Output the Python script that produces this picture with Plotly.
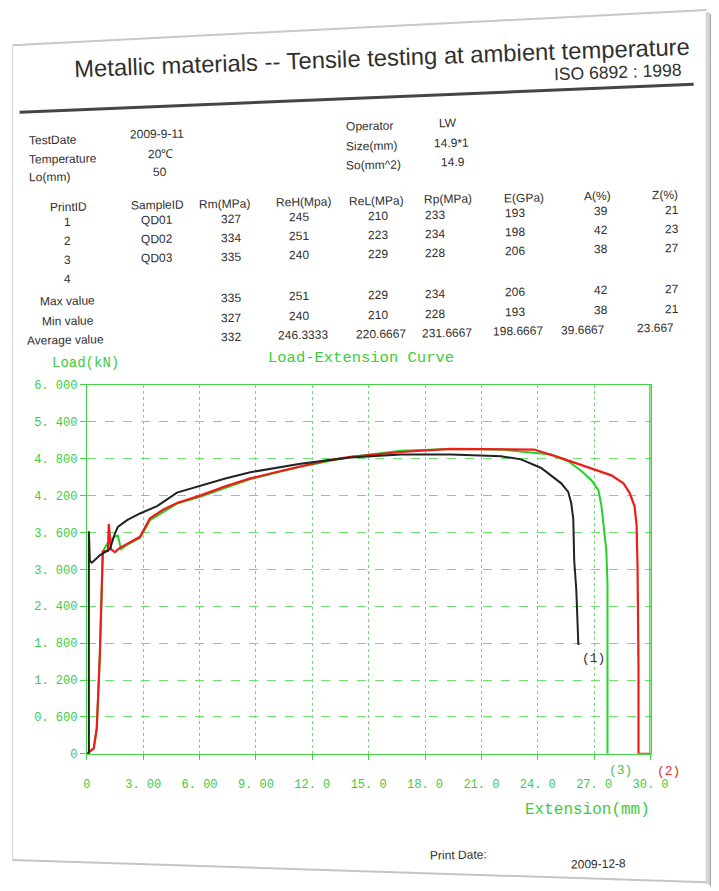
import plotly.graph_objects as go

# Figure size and the measured mapping from figure pixels to the photographed picture.
FW, FH = 731, 893
SX, AX = 0.967, 12.4
SY, AY = 0.982, 13.9

# ---------------- data ----------------
# Sample (1) - black
ext_1 = [0.05, 0.11, 0.11, 0.16, 0.27, 0.69, 1.23, 1.49, 1.65, 2.14, 2.83, 3.74, 4.80, 6.03, 7.37,
         8.70, 10.04, 11.37, 12.71, 14.04, 16.71, 19.38, 22.05, 23.11, 24.18, 24.72, 25.25, 25.62,
         25.78, 25.89, 25.94, 26.05, 26.16]
load_1 = [0.00, 0.00, 3.62, 3.14, 3.11, 3.23, 3.33, 3.58, 3.69, 3.80, 3.91, 4.03, 4.25, 4.36, 4.48,
          4.58, 4.65, 4.72, 4.77, 4.82, 4.87, 4.87, 4.84, 4.79, 4.65, 4.52, 4.40, 4.26,
          4.08, 3.82, 3.14, 2.67, 1.77]

# Sample (2) - red
ext_2 = [0.00, 0.37, 0.53, 0.69, 0.80, 0.85, 1.12, 1.17, 1.28, 1.49, 1.76, 2.14, 2.83, 3.36, 4.06,
         4.80, 6.03, 7.37, 8.70, 10.04, 11.37, 12.71, 14.04, 16.71, 19.38, 22.05, 23.81, 25.25,
         26.48, 27.23, 27.92, 28.56, 28.88, 29.15, 29.26, 29.31, 29.36, 29.36, 30.00]
load_2 = [0.00, 0.09, 0.42, 1.58, 2.75, 3.29, 3.30, 3.74, 3.33, 3.28, 3.35, 3.41, 3.53, 3.83, 3.97,
          4.08, 4.20, 4.35, 4.48, 4.58, 4.68, 4.77, 4.83, 4.91, 4.96, 4.96, 4.95, 4.81,
          4.68, 4.61, 4.53, 4.40, 4.25, 4.03, 3.72, 3.04, 1.43, 0.00, 0.00]

# Sample (3) - green
ext_3 = [0.00, 0.37, 0.53, 0.69, 0.80, 0.85, 1.07, 1.23, 1.44, 1.65, 1.82, 2.14, 2.83, 3.36, 4.06,
         4.80, 6.03, 7.37, 8.70, 10.04, 11.37, 12.71, 14.04, 16.71, 19.38, 22.05, 24.72, 25.62,
         26.32, 26.85, 27.23, 27.39, 27.55, 27.65, 27.71, 27.71, 27.71]
load_3 = [0.00, 0.09, 0.42, 1.58, 2.75, 3.29, 3.41, 3.46, 3.53, 3.55, 3.33, 3.40, 3.51, 3.80, 3.93,
          4.07, 4.18, 4.33, 4.47, 4.57, 4.67, 4.75, 4.83, 4.93, 4.96, 4.95, 4.87, 4.76,
          4.60, 4.45, 4.29, 4.03, 3.55, 3.30, 2.77, 1.31, 0.00]

x_ticks = [0, 3, 6, 9, 12, 15, 18, 21, 24, 27, 30]
x_tick_text = ["0", "3. 00", "6. 00", "9. 00", "12. 0", "15. 0", "18. 0", "21. 0", "24. 0", "27. 0", "30. 0"]
y_ticks = [0, 0.6, 1.2, 1.8, 2.4, 3.0, 3.6, 4.2, 4.8, 5.4, 6.0]
y_tick_text = ["0", "0. 600", "1. 200", "1. 800", "2. 400", "3. 000", "3. 600", "4. 200", "4. 800",
               "5. 400", "6. 000"]

curve_labels = ["(1)", "(2)", "(3)"]

info_labels = ["TestDate", "Temperature", "Lo(mm)"]
info_values = ["2009-9-11", "20\u2103", "50"]
op_labels = ["Operator", "Size(mm)", "So(mm^2)"]
op_values = ["LW", "14.9*1", "14.9"]

columns = ["PrintID", "SampleID", "Rm(MPa)", "ReH(Mpa)", "ReL(MPa)", "Rp(MPa)", "E(GPa)", "A(%)", "Z(%)"]
print_ids = ["1", "2", "3", "4"]
sample_ids = ["QD01", "QD02", "QD03", ""]
rm = ["327", "334", "335", ""]
reh = ["245", "251", "240", ""]
rel = ["210", "223", "229", ""]
rp = ["233", "234", "228", ""]
e_gpa = ["193", "198", "206", ""]
a_pct = ["39", "42", "38", ""]
z_pct = ["21", "23", "27", ""]

stat_labels = ["Max value", "Min value", "Average value"]
stat_rm = ["335", "327", "332"]
stat_reh = ["251", "240", "246.3333"]
stat_rel = ["229", "210", "220.6667"]
stat_rp = ["234", "228", "231.6667"]
stat_e = ["206", "193", "198.6667"]
stat_a = ["42", "38", "39.6667"]
stat_z = ["27", "21", "23.667"]

report_title = "Metallic materials -- Tensile testing at ambient temperature"
report_std = "ISO 6892 : 1998"
chart_title = "Load-Extension Curve"
x_title = "Extension(mm)"
y_title = "Load(kN)"
print_label = "Print Date:"
print_date = "2009-12-8"

# ---------------- layout helpers (picture pixels -> paper) ----------------
def X(px):
    return ((px - AX) / SX) / FW

def Y(py):
    return 1 - ((py - AY) / SY) / FH

DOC_FONT = "Liberation Sans, Arial, sans-serif"
MONO_FONT = "Liberation Mono, Courier New, monospace"
TXT = "#303030"
G_TXT = "#3dcc3d"
G_LINE = "#22d422"
G_GRID = "#6ee06e"

annotations = []

def doc_text(text, px, py, size=12, anchor="center", angle=0, color=TXT, family=DOC_FONT):
    annotations.append(dict(text=text, x=X(px), y=Y(py), xref="paper", yref="paper",
                            xanchor=anchor, yanchor="middle", showarrow=False,
                            textangle=angle, font=dict(family=family, size=size, color=color)))

# header
doc_text(report_title, 381, 57, size=23.8, angle=-2.1)
doc_text(report_std, 616, 72, size=17.5, angle=-2.0)

# test info block
info_label_y = [140, 159, 177]
info_value_pos = [(157, 134), (160, 154), (160, 172)]
for lab, yy in zip(info_labels, info_label_y):
    doc_text(lab, 27, yy, anchor="left", angle=-1.0)
for val, (xx, yy) in zip(info_values, info_value_pos):
    doc_text(val, xx, yy, angle=-1.0)

op_label_y = [126, 146, 165]
op_value_pos = [(447, 123), (451, 143), (452, 162)]
for lab, yy in zip(op_labels, op_label_y):
    doc_text(lab, 343, yy, anchor="left", angle=-1.0)
for val, (xx, yy) in zip(op_values, op_value_pos):
    doc_text(val, xx, yy, angle=-1.0)

# results table
SLOPE = -0.02
def row_y(base, px):
    return base + SLOPE * (px - 231)

head_x = [69, 157, 224, 303, 376, 447, 523, 596, 663]
val_x = [68, 157, 231, 299, 377, 434, 514, 600, 670]
avg_x = [66, 157, 231, 303, 380, 446, 517, 582, 654]
head_base = 203
data_base = [218, 237, 256, 275]
stat_base = [297, 317, 336]

for name, xx in zip(columns, head_x):
    doc_text(name, xx, row_y(head_base, xx), angle=-1.1)

data_cols = [print_ids, sample_ids, rm, reh, rel, rp, e_gpa, a_pct, z_pct]
for col, xx in zip(data_cols, val_x):
    for val, base in zip(col, data_base):
        if val:
            doc_text(val, xx, row_y(base, xx), angle=-1.1)

stat_cols = [stat_labels, None, stat_rm, stat_reh, stat_rel, stat_rp, stat_e, stat_a, stat_z]
for ci, col in enumerate(stat_cols):
    if col is None:
        continue
    for ri, (val, base) in enumerate(zip(col, stat_base)):
        xx = avg_x[ci] if ri == 2 else (68 if ci == 0 else val_x[ci])
        doc_text(val, xx, row_y(base, xx), angle=-1.1)

# chart texts
doc_text(y_title, 86, 362, size=14, color=G_TXT, family=MONO_FONT)
doc_text(chart_title, 360, 357, size=15.5, color=G_TXT, family=MONO_FONT)
doc_text(x_title, 586, 808, size=16, color=G_TXT, family=MONO_FONT)

# curve number labels
doc_text(curve_labels[0], 592, 657, size=13, color="#333333", family=MONO_FONT)
doc_text(curve_labels[2], 619, 769, size=13, color="#55bb55", family=MONO_FONT)
doc_text(curve_labels[1], 667, 770, size=13, color="#e03030", family=MONO_FONT)

# footer
doc_text(print_label, 458, 853, angle=-1.2)
doc_text(print_date, 597, 862, angle=-1.2)

# ---------------- figure ----------------
fig = go.Figure()
fig.add_trace(go.Scatter(x=ext_3, y=load_3, mode="lines", line=dict(color=G_LINE, width=2),
                         name="(3)", showlegend=False, hoverinfo="skip"))
fig.add_trace(go.Scatter(x=ext_2, y=load_2, mode="lines", line=dict(color="#ee1c1c", width=2.2),
                         name="(2)", showlegend=False, hoverinfo="skip"))
fig.add_trace(go.Scatter(x=ext_1, y=load_1, mode="lines", line=dict(color="#222222", width=2),
                         name="(1)", showlegend=False, hoverinfo="skip"))

shapes = [
    # page edges and shadow
    dict(type="line", xref="paper", yref="paper", x0=X(13), y0=Y(45), x1=X(705), y1=Y(10),
         line=dict(color="#c8c8c8", width=2)),
    dict(type="line", xref="paper", yref="paper", x0=X(13), y0=Y(45), x1=X(13), y1=Y(858),
         line=dict(color="#d6d6d6", width=1)),
    dict(type="line", xref="paper", yref="paper", x0=X(13), y0=Y(858), x1=X(705), y1=Y(880),
         line=dict(color="#c4c4c4", width=2)),
    dict(type="rect", xref="paper", yref="paper", x0=X(704), y0=Y(12), x1=X(708), y1=Y(882),
         fillcolor="#d4d4d4", line=dict(width=0)),
    dict(type="rect", xref="paper", yref="paper", x0=X(708), y0=Y(14), x1=1.0, y1=Y(884),
         fillcolor="#a6a6a6", line=dict(width=0)),
    # header rule
    dict(type="line", xref="paper", yref="paper", x0=X(20), y0=Y(112), x1=X(692), y1=Y(84),
         line=dict(color="#454545", width=3)),
    # thick right border of the chart
    dict(type="line", xref="x", yref="y", x0=30, y0=0, x1=30, y1=6,
         line=dict(color=G_LINE, width=2.5)),
]

fig.update_layout(
    width=FW, height=FH,
    margin=dict(l=0, r=0, t=0, b=0),
    paper_bgcolor="white", plot_bgcolor="white",
    showlegend=False,
    annotations=annotations,
    shapes=shapes,
    xaxis=dict(domain=[X(87), X(649)], range=[0, 30], tickmode="array", tickvals=x_ticks,
               ticktext=x_tick_text, showgrid=True, gridcolor=G_GRID, griddash="dot", gridwidth=1,
               zeroline=False, showline=True, linecolor="#44d444", linewidth=1, mirror=True,
               ticks="outside", ticklen=5, tickcolor="#44d444", ticklabelstandoff=14,
               tickfont=dict(family=MONO_FONT, size=12, color=G_TXT), fixedrange=True),
    yaxis=dict(domain=[Y(752), Y(384)], range=[0, 6], tickmode="array", tickvals=y_ticks,
               ticktext=y_tick_text, showgrid=True, gridcolor=G_GRID, griddash="dash", gridwidth=1,
               zeroline=False, showline=True, linecolor="#44d444", linewidth=1, mirror=True,
               ticks="outside", ticklen=6, tickcolor="#44d444",
               tickfont=dict(family=MONO_FONT, size=12, color=G_TXT), fixedrange=True),
)

fig.write_html("out.html")
